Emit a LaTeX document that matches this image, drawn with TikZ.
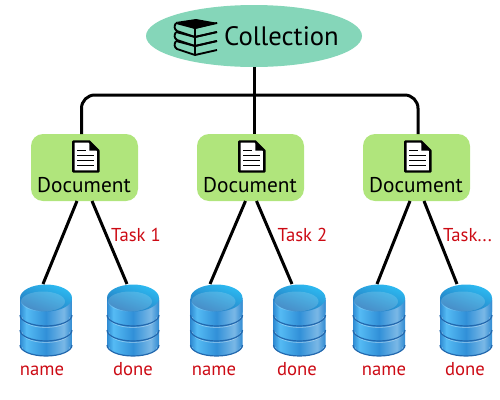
\documentclass[tikz,border=0pt]{standalone}
\usepackage{fontspec}
\setmainfont{PT Sans}
\usetikzlibrary{positioning,shapes.geometric,arrows.meta}
\definecolor{collgreen}{HTML}{85D6B9}
\definecolor{docgreen}{HTML}{B0E57C}
\definecolor{labelred}{HTML}{CC0A14}
\definecolor{dbedge}{HTML}{2F8AD2}
\definecolor{dblight}{HTML}{55BBF4}
\definecolor{dbmid}{HTML}{3190D8}
\definecolor{dbpale}{HTML}{7AB8E6}
\definecolor{dbcyan}{HTML}{2DBBF2}
\definecolor{dbdark}{HTML}{2476BC}
\definecolor{dbline}{HTML}{2268AE}
\pgfdeclarehorizontalshading{dbbody}{100bp}{color(0bp)=(dbedge); color(25bp)=(dbedge); color(31bp)=(dblight); color(50bp)=(dbmid); color(67bp)=(dbpale); color(75bp)=(dbedge); color(100bp)=(dbedge)}
\tikzset{
	wire/.style={line width=2.25pt, black},
	colltext/.style={font=\fontsize{20}{22}\selectfont, anchor=base, inner sep=0pt},
	doctext/.style={font=\fontsize{16}{18}\selectfont, anchor=base, inner sep=0pt},
	redlabel/.style={font=\fontsize{14}{16}\selectfont, text=labelred, anchor=base, inner sep=0pt},
	collnode/.style={ellipse, fill=collgreen, minimum width=162pt, minimum height=46.5pt, inner sep=0pt, outer sep=0pt},
	docnode/.style={rectangle, rounded corners=9pt, fill=docgreen, minimum width=80.25pt, minimum height=50.25pt, inner sep=0pt, outer sep=0pt},
	dbstack/.pic={
		\node[minimum width=39pt, minimum height=54pt, inner sep=0pt, outer sep=0pt] (-box) at (0,0) {};
		\foreach \c in {25,10,-5} {
			\path[shading=dbbody] (-26,\c-15) -- (-26,\c) arc[start angle=180, end angle=0, x radius=26, y radius=11] -- (26,\c-15) -- cycle;
			\draw[white, opacity=.35, line width=.6pt] (-24,\c+2) arc[start angle=180, end angle=0, x radius=24, y radius=10.5];
			\draw[dbline, line width=.9pt] (-26,\c) arc[start angle=180, end angle=0, x radius=26, y radius=11];
		}
		\path[shading=dbbody] (-26,-22) -- (-26,-8) arc[start angle=180, end angle=0, x radius=26, y radius=11] -- (26,-22) -- cycle;
		\path[left color=dbcyan, middle color=dbmid, right color=dbdark, shading angle=-20] (0,-22) ellipse[x radius=26, y radius=13.5];
		\fill[white, opacity=.16] (-3,-18.5) ellipse[x radius=22, y radius=10];
	},
	docicon/.pic={
		\draw[line width=1.8pt, fill=white, line join=round] (-12,-15) -- (4,-15) -- (13,-6) -- (13,15) -- (-12,15) -- cycle;
		\fill[black] (4,-15) -- (13,-6) -- (4,-6) -- cycle;
		\draw[line width=1.1pt] (-8,-6) -- (1,-6) (-8,-1) -- (9,-1) (-8,4) -- (9,4) (-8,9) -- (9,9);
	},
	bookicon/.pic={
		\foreach \b in {18,9,0} {
			\draw[line width=1.4pt, line join=round] (0,\b+1) -- (19,\b+6) -- (41,\b+1) (0,\b+1) .. controls (-2,\b+4) and (-2,\b+7) .. (1,\b+9) -- (19,\b+15) -- (41,\b+10) (19,\b+6) -- (19,\b+15);
		}
		\fill[black] (0,0) -- (20,-3) -- (42,1) -- (19,7) -- cycle;
	}
}
\begin{document}
\begin{tikzpicture}[x=.75pt, y=-.75pt]
	\useasboundingbox (0,0) rectangle (500,400);
	\draw (254,36)node[collnode](coll){};
	\draw (84.5,167.5)node[docnode](doc1){};
	\draw (250.5,167.5)node[docnode](doc2){};
	\draw (416.5,167.5)node[docnode](doc3){};
	\coordinate (bus) at (254,95);
	\pic (db1) at (46,320) {dbstack};
	\pic (db2) at (133,320) {dbstack};
	\pic (db3) at (216.5,320) {dbstack};
	\pic (db4) at (299.5,320) {dbstack};
	\pic (db5) at (379,320) {dbstack};
	\pic (db6) at (466,320) {dbstack};
	\draw[wire] (coll.south) -- (coll.south |- doc2.north);
	\draw[wire, rounded corners=10pt] ([shift={(-3,0)}]doc1.north) |- (bus) -| ([shift={(1.5,0)}]doc3.north);
	\draw[wire] ([shift={(-7.5,0)}]doc1.south) -- ([shift={(-3,0)}]db1-box.north);
	\draw[wire] ([shift={(7.5,0)}]doc1.south) -- ([shift={(-6,0)}]db2-box.north);
	\draw[wire] ([shift={(-5,0)}]doc2.south) -- ([shift={(-6.5,0)}]db3-box.north);
	\draw[wire] ([shift={(6,0)}]doc2.south) -- ([shift={(-7.5,0)}]db4-box.north);
	\draw[wire] ([shift={(-6.5,0)}]doc3.south) -- ([shift={(-2,0)}]db5-box.north);
	\draw[wire] ([shift={(7.5,0)}]doc3.south) -- ([shift={(-9,0)}]db6-box.north);
	\pic (books) at (176,22) {bookicon};
	\draw (281.5,45)node[colltext](colllabel){Collection};
	\pic (icon1) at (85.3,156.5) {docicon};
	\pic (icon2) at (251.3,156.5) {docicon};
	\pic (icon3) at (417.3,156.5) {docicon};
	\draw (84,192.7)node[doctext](doclabel1){Document};
	\draw (250,192.7)node[doctext](doclabel2){Document};
	\draw (416,192.7)node[doctext](doclabel3){Document};
	\draw (136,241.7)node[redlabel](task1){Task 1};
	\draw (302.5,241.7)node[redlabel](task2){Task 2};
	\draw (467.5,241.7)node[redlabel](task3){Task...};
	\draw (42,375)node[redlabel](name1){name};
	\draw (133,375)node[redlabel](done1){done};
	\draw (214,375)node[redlabel](name2){name};
	\draw (297,375)node[redlabel](done2){done};
	\draw (384,375)node[redlabel](name3){name};
	\draw (465,375)node[redlabel](done3){done};
\end{tikzpicture}
\end{document}
